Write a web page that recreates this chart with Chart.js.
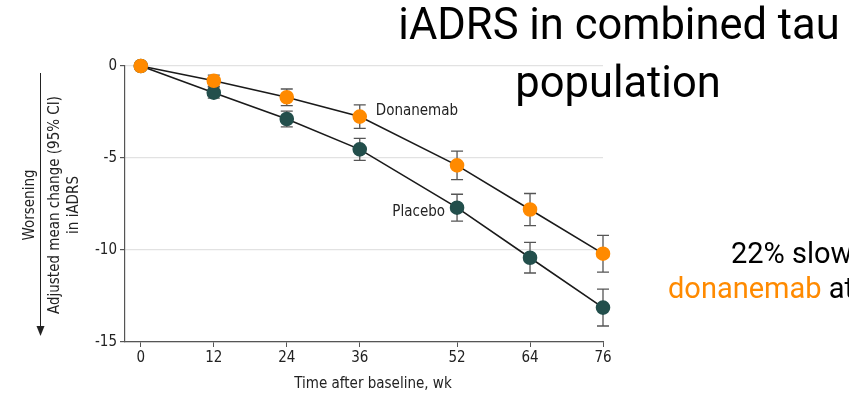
<!DOCTYPE html>
<html>
<head>
<meta charset="utf-8">
<script src="https://cdn.jsdelivr.net/npm/chart.js@4.4.1/dist/chart.umd.min.js"></script>
<style>
  html, body { margin: 0; padding: 0; background: #fff; }
  #wrap { width: 849px; height: 396px; position: relative; }
</style>
</head>
<body>
<div id="wrap"><canvas id="grafico" width="849" height="396"></canvas></div>
<script>
// Semanas de acompanhamento e média ajustada do iADRS (com IC 95%)
const semanas = [0, 12, 24, 36, 52, 64, 76];
const donanemab = [0, -0.8, -1.7, -2.75, -5.4, -7.8, -10.2];
const donanemabIC = [0, 0.3, 0.45, 0.64, 0.77, 0.87, 1.0];
const placebo = [0, -1.45, -2.88, -4.53, -7.7, -10.42, -13.13];
const placeboIC = [0, 0.3, 0.43, 0.6, 0.73, 0.83, 1.0];
const ticksY = [0, -5, -10, -15];

const LARANJA = '#ff8a00';
const VERDE = '#234f4c';
const FONTE_EIXO = "'DejaVu Sans Condensed', 'DejaVu Sans', sans-serif";

// Barras de erro (IC 95%) desenhadas antes das linhas e marcadores
const barrasErro = {
    id: 'barrasErro',
    beforeDatasetsDraw(chart) {
        const { ctx, scales: { x, y } } = chart;
        const series = [[donanemab, donanemabIC], [placebo, placeboIC]];
        ctx.save();
        ctx.strokeStyle = '#555';
        ctx.lineWidth = 1.3;
        series.forEach(([valores, ic]) => {
            valores.forEach((v, i) => {
                if (!ic[i]) return;
                const px = x.getPixelForValue(semanas[i]);
                const yTop = y.getPixelForValue(v + ic[i]);
                const yBot = y.getPixelForValue(v - ic[i]);
                ctx.beginPath();
                ctx.moveTo(px, yTop); ctx.lineTo(px, yBot);
                ctx.moveTo(px - 6, yTop); ctx.lineTo(px + 6, yTop);
                ctx.moveTo(px - 6, yBot); ctx.lineTo(px + 6, yBot);
                ctx.stroke();
            });
        });
        ctx.restore();
    }
};

// Textos: rótulos das séries, títulos dos eixos e texto do slide
const textos = {
    id: 'textos',
    afterDraw(chart) {
        const { ctx, scales: { x, y } } = chart;
        ctx.save();
        ctx.fillStyle = '#222';
        ctx.font = "15px " + FONTE_EIXO;
        ctx.textBaseline = 'middle';

        // rótulos das séries
        ctx.textAlign = 'left';
        ctx.fillText('Donanemab', x.getPixelForValue(36) + 16, y.getPixelForValue(donanemab[3]) - 5);
        ctx.textAlign = 'right';
        ctx.fillText('Placebo', x.getPixelForValue(52) - 12, y.getPixelForValue(placebo[4]) + 4);

        // título do eixo x
        ctx.textAlign = 'center';
        ctx.fillText('Time after baseline, wk', 373, 384);

        // título do eixo y (rotacionado) + seta "Worsening"
        const cy = 205;
        ctx.save();
        ctx.translate(0, cy);
        ctx.rotate(-Math.PI / 2);
        ctx.fillText('Worsening', 0, 30);
        ctx.fillText('Adjusted mean change (95% CI)', 0, 55);
        ctx.fillText('in iADRS', 0, 74);
        ctx.restore();

        ctx.strokeStyle = '#222';
        ctx.lineWidth = 1;
        ctx.beginPath();
        ctx.moveTo(40.5, 73);
        ctx.lineTo(40.5, 330);
        ctx.stroke();
        ctx.beginPath();
        ctx.moveTo(36.5, 326);
        ctx.lineTo(40.5, 336);
        ctx.lineTo(44.5, 326);
        ctx.closePath();
        ctx.fillStyle = '#222';
        ctx.fill();

        // título do slide
        ctx.fillStyle = '#000';
        ctx.textBaseline = 'alphabetic';
        ctx.textAlign = 'center';
        ctx.font = "43.5px Roboto, sans-serif";
        ctx.fillText('iADRS in combined tau', 619, 39);
        ctx.fillText('population', 618, 97);

        // texto lateral
        ctx.textAlign = 'left';
        ctx.font = "29px Roboto, sans-serif";
        ctx.fillText('22% slow', 731, 263);
        ctx.fillStyle = LARANJA;
        ctx.fillText('donanemab', 668, 298);
        const w = ctx.measureText('donanemab ').width;
        ctx.fillStyle = '#000';
        ctx.fillText('at', 668 + w, 298);
        ctx.restore();
    }
};

const ctx = document.getElementById('grafico').getContext('2d');
new Chart(ctx, {
    type: 'line',
    data: {
        datasets: [
            {
                label: 'Donanemab',
                data: semanas.map((s, i) => ({ x: s, y: donanemab[i] })),
                borderColor: '#1a1a1a',
                borderWidth: 1.6,
                pointBackgroundColor: LARANJA,
                pointBorderColor: LARANJA,
                pointRadius: 6.5,
                clip: false,
                tension: 0
            },
            {
                label: 'Placebo',
                data: semanas.map((s, i) => ({ x: s, y: placebo[i] })),
                borderColor: '#1a1a1a',
                borderWidth: 1.6,
                pointBackgroundColor: VERDE,
                pointBorderColor: VERDE,
                pointRadius: 6.5,
                clip: false,
                tension: 0
            }
        ]
    },
    options: {
        responsive: false,
        animation: false,
        layout: { padding: { top: 66, right: 246, left: 0, bottom: 0 } },
        plugins: {
            legend: { display: false },
            tooltip: { enabled: false }
        },
        scales: {
            x: {
                type: 'linear',
                min: -2.6,
                max: 76,
                afterBuildTicks: s => { s.ticks = semanas.map(v => ({ value: v })); },
                afterFit: s => { s.height = 54; },
                grid: { drawOnChartArea: false, drawTicks: true, tickLength: 5, tickColor: '#555' },
                border: { color: '#555', width: 1.2 },
                ticks: { color: '#222', font: { family: FONTE_EIXO, size: 15 }, padding: 2, maxRotation: 0 }
            },
            y: {
                min: -15,
                max: 0,
                afterBuildTicks: s => { s.ticks = ticksY.map(v => ({ value: v })); },
                afterFit: s => { s.width = 125; },
                grid: { color: '#e2e2e2', lineWidth: 1.2, drawTicks: true, tickLength: 5, tickColor: '#555' },
                border: { color: '#555', width: 1.2 },
                ticks: { color: '#222', font: { family: FONTE_EIXO, size: 15 }, padding: 3 }
            }
        }
    },
    plugins: [barrasErro, textos]
});
</script>
</body>
</html>
